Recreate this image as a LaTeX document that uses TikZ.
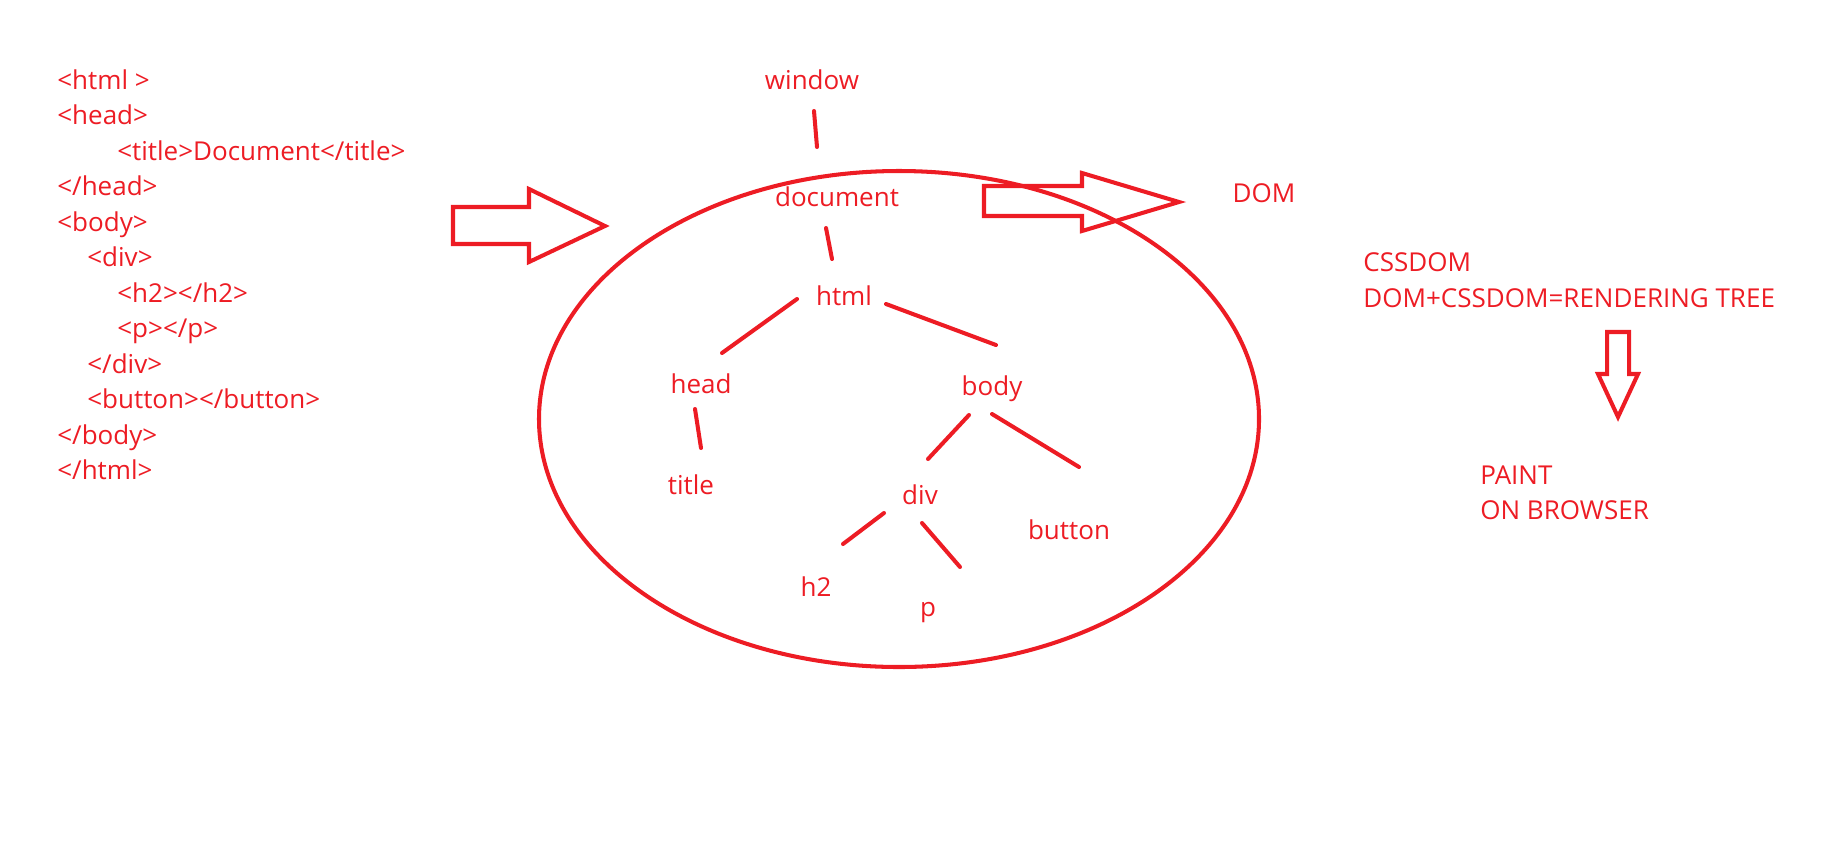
\documentclass[tikz,border=0pt]{standalone}
\usepackage{fontspec}
\setmainfont{Open Sans}
\definecolor{paintred}{HTML}{ED1C24}
\tikzset{
  txt/.style={text=paintred, font=\fontsize{14.8pt}{17pt}\selectfont, inner sep=0pt},
  code/.style={txt, anchor=base west},
  tnode/.style={txt, anchor=base},
  edge/.style={draw=paintred, line width=2.3pt, line cap=round},
  outline/.style={draw=paintred, line width=2.3pt, line join=miter}
}
\begin{document}
\begin{tikzpicture}[x=0.02cm, y=-0.02cm]
\useasboundingbox (0,0) rectangle (1831,846);
% source listing
\node[code] (c1) at (57,89) {<html >};
\node[code] (c2) at (57,124.5) {<head>};
\node[code] (c3) at (117,160) {<title>Document</title>};
\node[code] (c4) at (57,195.5) {</head>};
\node[code] (c5) at (57,231) {<body>};
\node[code] (c6) at (87,266.5) {<div>};
\node[code] (c7) at (117,302) {<h2></h2>};
\node[code] (c8) at (117,337.5) {<p></p>};
\node[code] (c9) at (87,373) {</div>};
\node[code] (c10) at (87,408.5) {<button></button>};
\node[code] (c11) at (57,444) {</body>};
\node[code] (c12) at (57,479.5) {</html>};
% arrow into the tree
\draw[outline] (453,207) -- (529,207) -- (529,189) -- (605,226) -- (529,262)
  -- (529,244) -- (453,244) -- cycle;
% tree
\draw[outline] (899,419) ellipse [x radius=360, y radius=248];
\node[tnode] (window) at (812,89) {window};
\node[tnode] (document) at (837,206) {document};
\node[tnode] (html) at (844,305) {html};
\node[tnode] (head) at (701,393) {head};
\node[tnode] (body) at (992,395) {body};
\node[tnode] (title) at (691,494) {title};
\node[tnode] (div) at (920,504) {div};
\node[tnode] (button) at (1069,539) {button};
\node[tnode] (h2) at (816,596) {h2};
\node[tnode] (p) at (928,616) {p};
\draw[edge] ([shift={(2,22)}]window.base) -- ([shift={(-20,-59)}]document.base);
\draw[edge] ([shift={(-11,22)}]document.base) -- ([shift={(-12,-46)}]html.base);
\draw[edge] ([shift={(-47,-6)}]html.base) -- ([shift={(21,-40)}]head.base);
\draw[edge] ([shift={(42,-1)}]html.base) -- ([shift={(4,-50)}]body.base);
\draw[edge] ([shift={(-6,16)}]head.base) -- ([shift={(10,-46)}]title.base);
\draw[edge] ([shift={(-23,20)}]body.base) -- ([shift={(8,-45)}]div.base);
\draw[edge] ([shift={(0,19)}]body.base) -- ([shift={(10,-72)}]button.base);
\draw[edge] ([shift={(-36,9)}]div.base) -- ([shift={(27,-52)}]h2.base);
\draw[edge] ([shift={(2,19)}]div.base) -- ([shift={(32,-49)}]p.base);
% arrow out to the DOM
\draw[outline] (984,186) -- (1082,186) -- (1082,173) -- (1179,202) -- (1082,231)
  -- (1082,216) -- (984,216) -- cycle;
\node[tnode] (dom) at (1264,202) {DOM};
\node[code] (cssdom) at (1363,271) {CSSDOM};
\node[code] (render) at (1363,307) {DOM+CSSDOM=RENDERING TREE};
\draw[outline] (1607,332) -- (1629,332) -- (1629,374) -- (1638,374) -- (1618,417)
  -- (1598,374) -- (1607,374) -- cycle;
\node[code] (paint) at (1480,484) {PAINT};
\node[code] (browser) at (1480,519) {ON BROWSER};
\end{tikzpicture}
\end{document}
